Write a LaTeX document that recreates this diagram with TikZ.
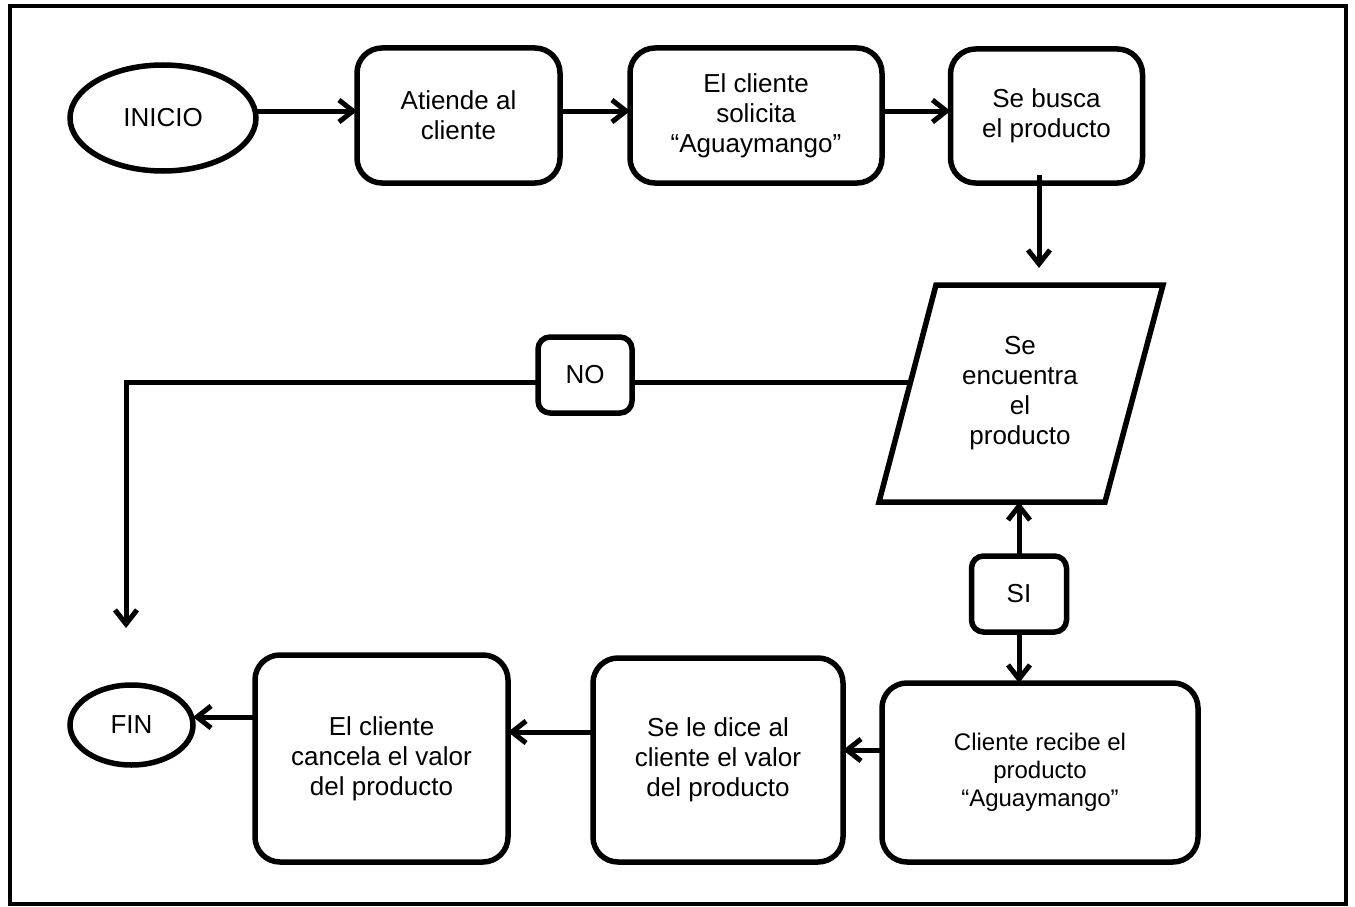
\documentclass[tikz,border=0pt]{standalone}
\usepackage{fontspec}
\setmainfont{Liberation Sans}
\usetikzlibrary{arrows.meta,shapes.geometric}
\begin{document}
\begin{tikzpicture}[x=1pt,y=-1pt,
  every node/.style={align=center,inner sep=0pt,outer sep=0pt,font=\fontsize{26}{30}\selectfont},
  term/.style={ellipse,draw,line width=5.5pt},
  procbox/.style={rectangle,rounded corners=25pt,draw,line width=5.5pt},
  tagbox/.style={rectangle,rounded corners=12pt,draw,line width=5.5pt},
  arr/.style={line width=5pt,-{Straight Barb[length=14pt,width=22pt]}},
  plain/.style={line width=5pt}]
\useasboundingbox (0,0) rectangle (1355,907);
\draw[line width=4pt] (10,6) rectangle (1346,904);

\node[term,minimum width=186pt,minimum height=106pt] (ini) at (163,118) {INICIO};
\node[procbox,minimum width=203pt,minimum height=135pt] (at) at (458.5,115.5) {Atiende al\\cliente};
\node[procbox,minimum width=252pt,minimum height=135pt] (sol) at (756,115.5) {El cliente\\solicita\\“Aguaymango”};
\node[procbox,minimum width=192pt,minimum height=134pt] (bus) at (1046.5,116) {Se busca\\el producto};

\coordinate (pTL) at (936,285);
\coordinate (pTR) at (1163,285);
\coordinate (pBR) at (1105,502);
\coordinate (pBL) at (879,502);
\draw[line width=5.5pt,line join=miter] (pTL) -- (pTR) -- (pBR) -- (pBL) -- cycle;
\node (par) at (1020,393) {Se\\encuentra\\el\\producto};
\coordinate (parL) at (910.5,382);
\coordinate (parB) at (1019,502);

\node[tagbox,minimum width=94pt,minimum height=76pt] (no) at (585,375) {NO};
\node[tagbox,minimum width=95pt,minimum height=76pt] (si) at (1019,594) {SI};

\node[procbox,minimum width=316pt,minimum height=179pt,font=\fontsize{24}{28}\selectfont] (rec) at (1040,772.5) {Cliente recibe el\\producto\\“Aguaymango”};
\node[procbox,minimum width=250pt,minimum height=204pt] (dice) at (718,760) {Se le dice al\\cliente el valor\\del producto};
\node[procbox,minimum width=253pt,minimum height=207pt] (can) at (381.5,758.5) {El cliente\\cancela el valor\\del producto};
\node[term,minimum width=123pt,minimum height=80pt] (fin) at (131.5,725) {FIN};

% top row
\coordinate (y1) at (0,111);
\draw[arr] (ini.east |- y1) -- (at.west |- y1);
\draw[arr] (at.east |- y1) -- (sol.west |- y1);
\draw[arr] (sol.east |- y1) -- (bus.west |- y1);
\coordinate (busend) at (1039,268);
\draw[arr] (busend |- bus.south) ++(0,-8) -- (busend);

% NO branch
\coordinate (noend) at (126,628);
\draw[plain] (parL) -- (no.east |- parL);
\draw[arr] (no.west |- parL) -| (noend);

% SI branch
\draw[arr] (si.north) -- (parB);
\draw[arr] (si.south) -- (rec.north -| si.south);

% bottom row
\coordinate (y2) at (0,750);
\coordinate (y3) at (0,732);
\coordinate (y4) at (0,717);
\draw[arr] (rec.west |- y2) -- (dice.east |- y2);
\draw[arr] (dice.west |- y3) -- (can.east |- y3);
\draw[arr] (can.west |- y4) -- (fin.east |- y4);
\end{tikzpicture}
\end{document}
